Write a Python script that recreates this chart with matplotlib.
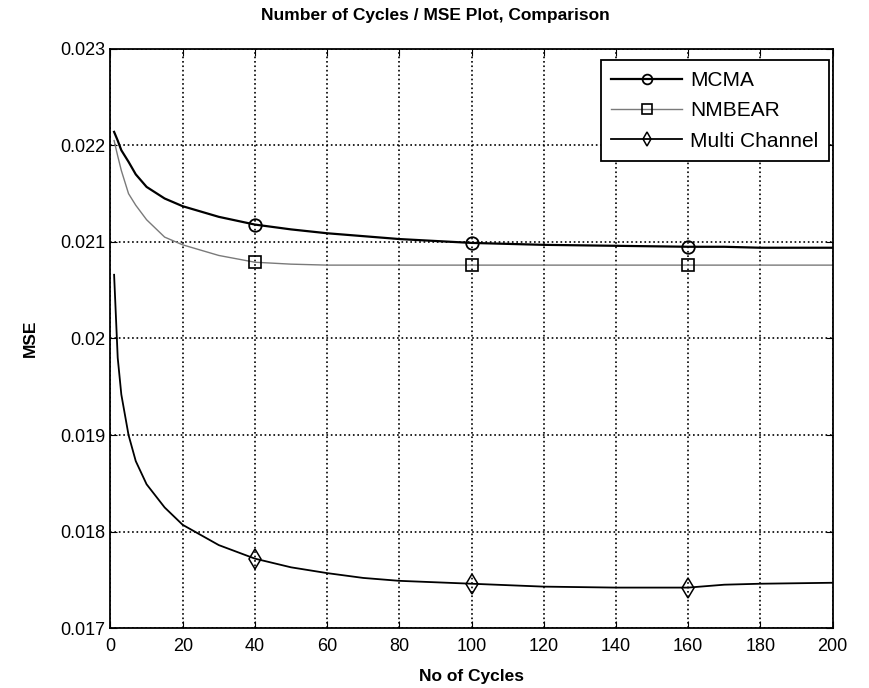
import numpy as np
import matplotlib
matplotlib.use("Agg")
import matplotlib.pyplot as plt
from matplotlib.lines import Line2D

plt.rcParams['font.family'] = ['Liberation Sans', 'DejaVu Sans']

cycles = [1, 2, 3, 5, 7, 10, 15, 20, 30, 40, 50, 60, 70, 80, 100, 120, 140, 160, 170, 180, 200]

mcma = [0.02214, 0.02205, 0.02195, 0.02183, 0.02170, 0.02157, 0.02145, 0.02137, 0.02126, 0.02118,
        0.02113, 0.02109, 0.02106, 0.02103, 0.02099, 0.02097, 0.02096, 0.02095, 0.02095, 0.02094, 0.02094]

nmbear = [0.02205, 0.02189, 0.02174, 0.02150, 0.02138, 0.02123, 0.02105, 0.02097, 0.02086, 0.02079,
          0.02077, 0.02076, 0.02076, 0.02076, 0.02076, 0.02076, 0.02076, 0.02076, 0.02076, 0.02076, 0.02076]

multi = [0.02066, 0.01980, 0.01942, 0.01900, 0.01873, 0.01849, 0.01825, 0.01807, 0.01786, 0.01772,
         0.01763, 0.01757, 0.01752, 0.01749, 0.01746, 0.01743, 0.01742, 0.01742, 0.01745, 0.01746, 0.01747]

labels = ["MCMA", "NMBEAR", "Multi Channel"]
marker_x = [40, 100, 160]
xticks = [0, 20, 40, 60, 80, 100, 120, 140, 160, 180, 200]
yticks = [0.017, 0.018, 0.019, 0.02, 0.021, 0.022, 0.023]
ytick_labels = ["0.017", "0.018", "0.019", "0.02", "0.021", "0.022", "0.023"]

marks = [cycles.index(m) for m in marker_x]

styles = [
    dict(marker='o', color='black', lw=1.6, ms=9, mew=1.3, mec='black'),
    dict(marker='s', color='#7a7a7a', lw=1.0, ms=9, mew=1.2, mec='black'),
    dict(marker='d', color='black', lw=1.3, ms=10, mew=1.1, mec='black'),
]

fig = plt.figure(figsize=(8.7, 6.88), dpi=100)
ax = fig.add_axes([0.127, 0.087, 0.83, 0.842])

for ys, st in zip([mcma, nmbear, multi], styles):
    ax.plot(cycles, ys, mfc='none', markevery=marks, **st)

ax.set_xlim(0, 200)
ax.set_ylim(0.017, 0.023)
ax.set_xticks(xticks)
ax.set_yticks(yticks)
ax.set_yticklabels(ytick_labels)
ax.tick_params(direction='in', top=True, right=True, labelsize=13, length=5)
ax.tick_params(axis='x', pad=7)
ax.grid(True, linestyle=':', color='black', lw=1.2)
for s in ax.spines.values():
    s.set_linewidth(1.3)

fig.text(0.5, 0.978, "Number of Cycles / MSE Plot, Comparison", ha='center', va='center',
         fontsize=12.5, fontweight='bold')
ax.set_xlabel("No of Cycles", fontsize=12.5, fontweight='bold', labelpad=10)
ax.set_ylabel("MSE", fontsize=12.5, fontweight='bold', labelpad=16)

# legend handles without markevery so the marker sits mid-line
handles = []
for lab, st in zip(labels, styles):
    h_st = dict(st)
    h_st['ms'] = 7
    handles.append(Line2D([], [], mfc='none', label=lab, **h_st))
leg = ax.legend(handles=handles, loc='upper right', bbox_to_anchor=(0.995, 0.98),
                fontsize=15, fancybox=False, framealpha=1, edgecolor='black',
                borderaxespad=0, handlelength=3.4, handletextpad=0.4,
                labelspacing=0.55, borderpad=0.5)
leg.get_frame().set_linewidth(1.3)

fig.savefig("out.png", dpi=100)
